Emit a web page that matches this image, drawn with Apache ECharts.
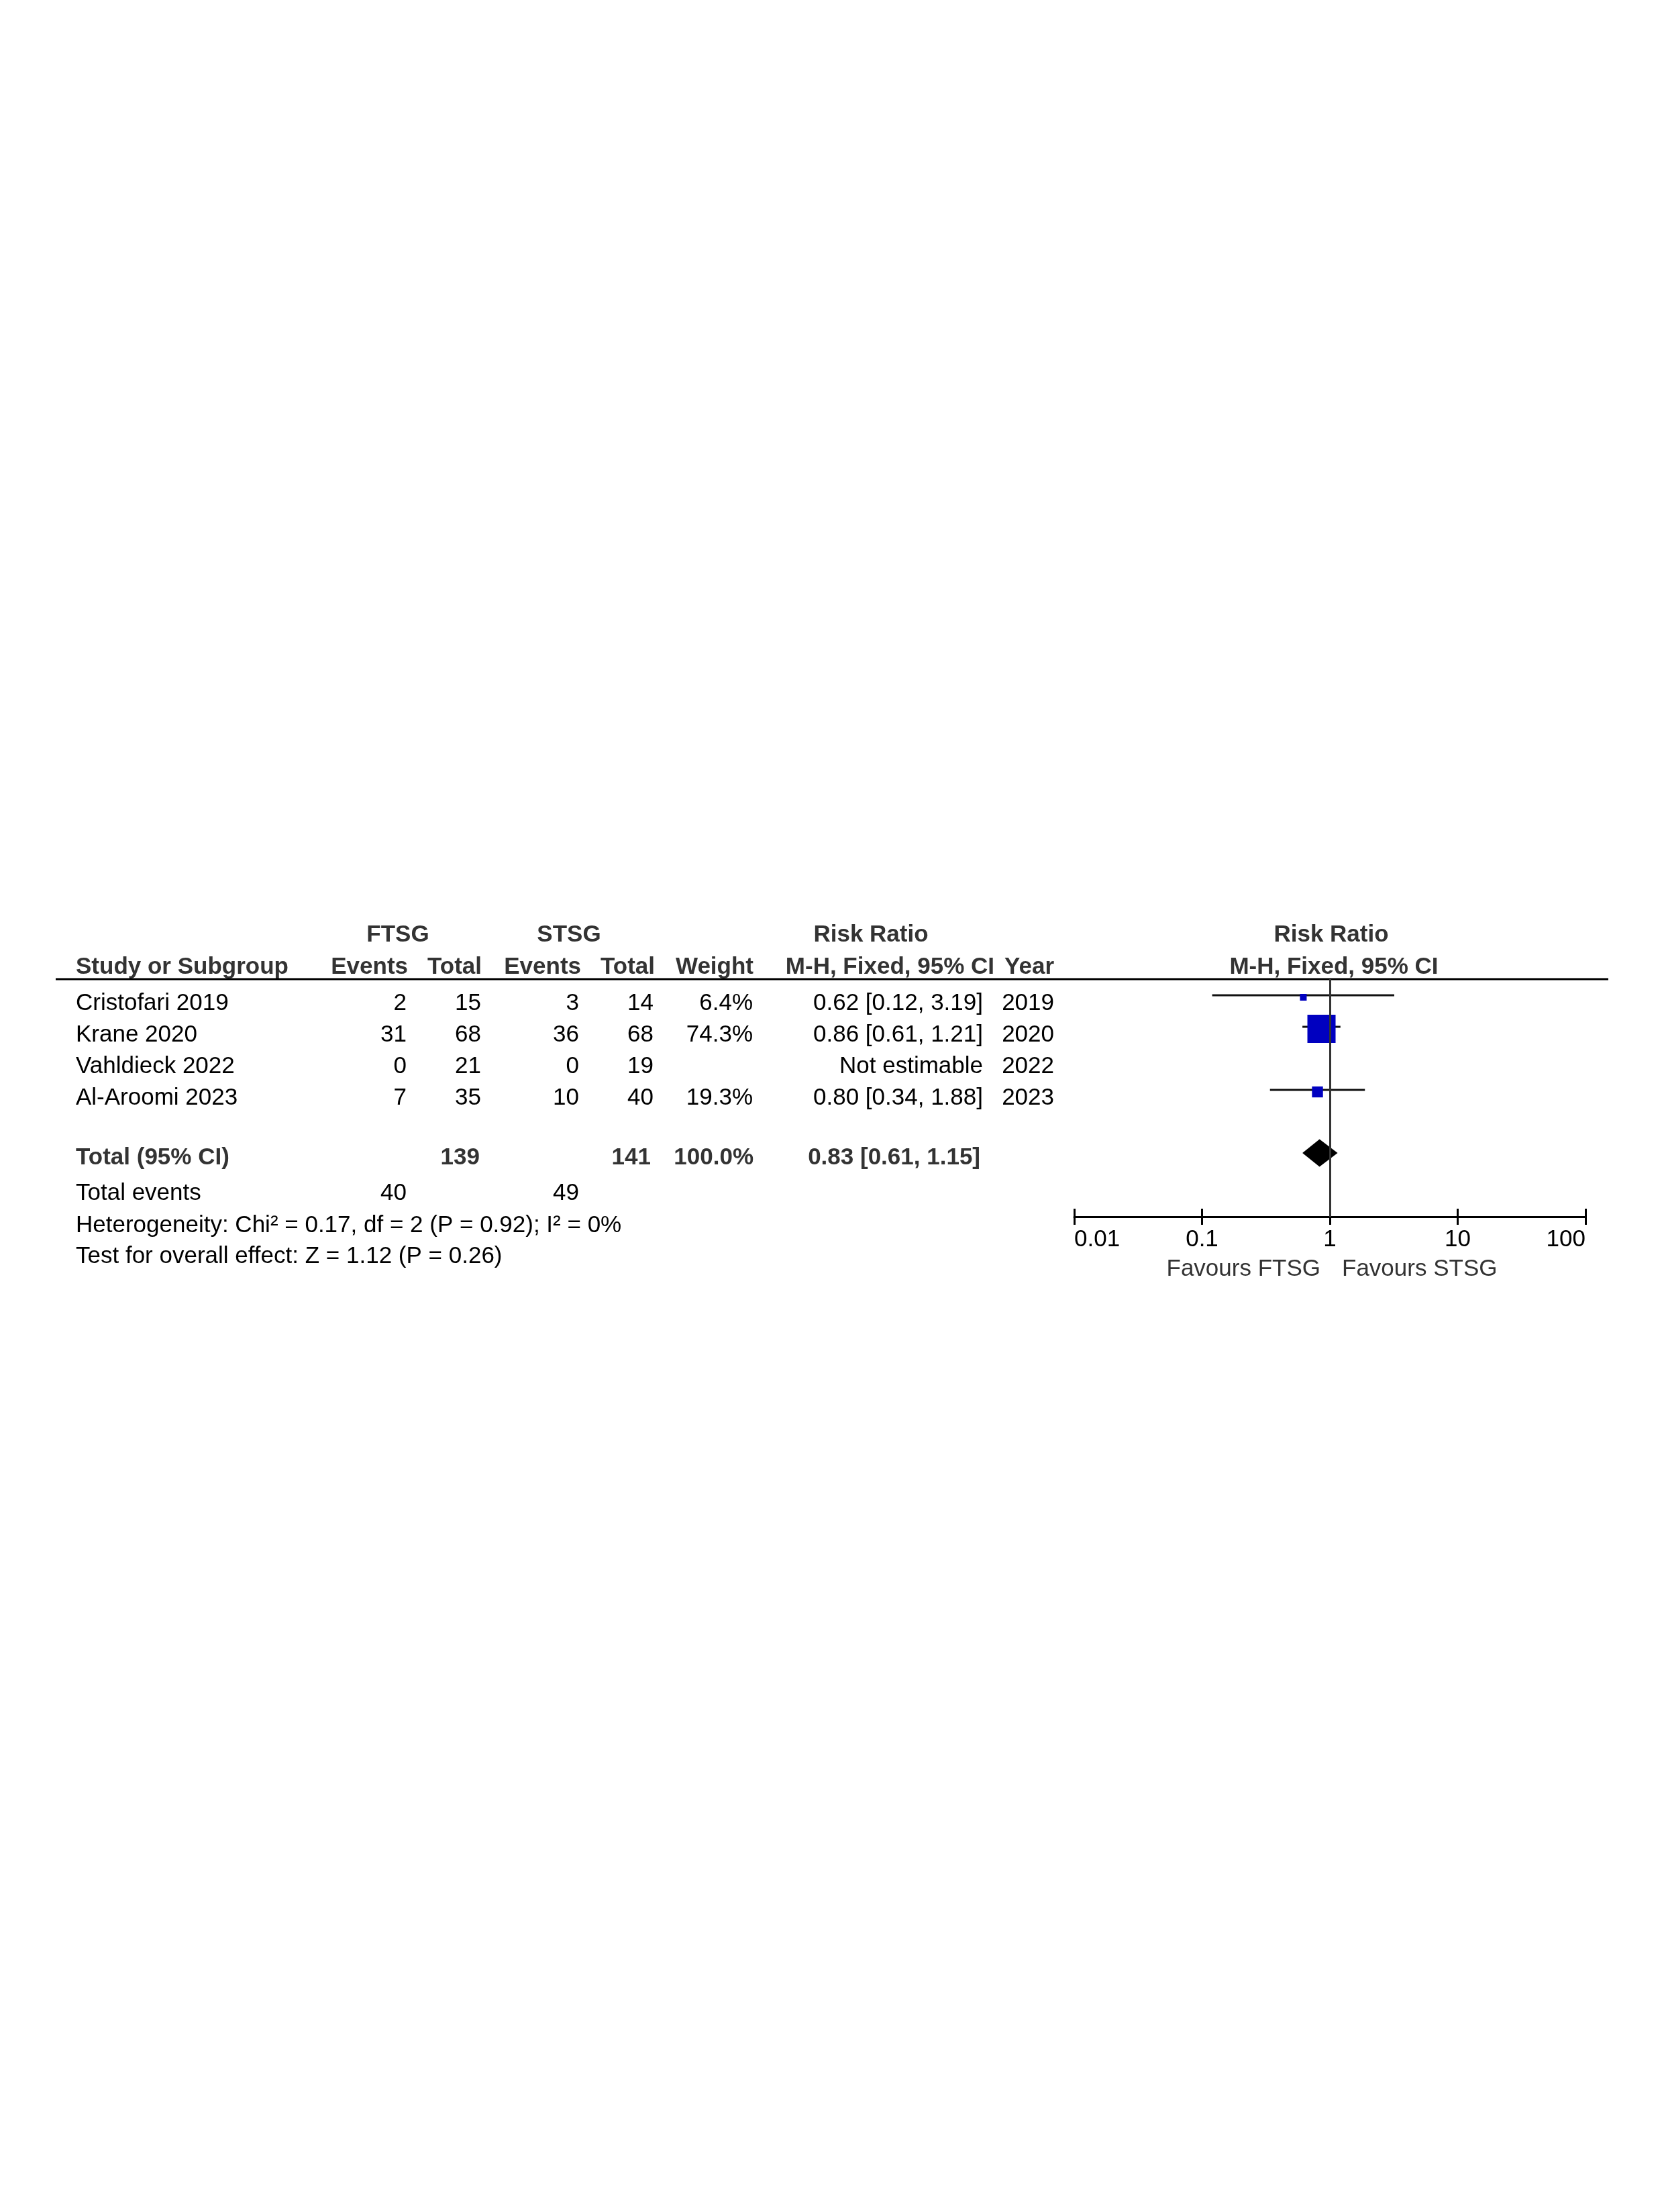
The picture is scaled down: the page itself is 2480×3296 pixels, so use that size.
<!DOCTYPE html>
<html lang="en">
<head>
<meta charset="UTF-8" />
<title>Forest plot</title>
<style>
  html, body { margin: 0; padding: 0; background: #fff; }
  #forest-chart { width: 2480px; height: 3296px; }
</style>
</head>
<body>
<div id="forest-chart"></div>
<script src="https://cdn.jsdelivr.net/npm/echarts@6/dist/echarts.min.js"></script>
<script>
// study data
const studies = ["Cristofari 2019", "Krane 2020", "Vahldieck 2022", "Al-Aroomi 2023"];
const ftsgEvents = [2, 31, 0, 7];
const ftsgTotal = [15, 68, 21, 35];
const stsgEvents = [3, 36, 0, 10];
const stsgTotal = [14, 68, 19, 40];
const weights = [6.4, 74.3, null, 19.3];
const rr = [0.62, 0.86, null, 0.80];
const rrLow = [0.12, 0.61, null, 0.34];
const rrHigh = [3.19, 1.21, null, 1.88];
const years = [2019, 2020, 2022, 2023];

// pooled result
const pooled = [0.83, 0.61, 1.15];
const pooledTotals = [139, 141];
const pooledEvents = [40, 49];
const pooledWeight = 100.0;
const heterogeneity = "Heterogeneity: Chi² = 0.17, df = 2 (P = 0.92); I² = 0%";
const overallTest = "Test for overall effect: Z = 1.12 (P = 0.26)";
const xTicks = [0.01, 0.1, 1, 10, 100];

window.onload = function () {
  const chart = echarts.init(document.getElementById("forest-chart"));
  const FONT = "'Liberation Sans', Arial, Helvetica, sans-serif";
  // canvas "middle" sits a little above the cap centre, nudge text down
  const DY = 3;

  function txt(x, y, text, align, bold) {
    return {
      type: "text",
      x: x,
      y: y + DY,
      silent: true,
      style: {
        text: String(text),
        align: align,
        textAlign: align,
        verticalAlign: "middle",
        textVerticalAlign: "middle",
        fontFamily: FONT,
        fontSize: 35,
        fontWeight: bold ? "bold" : "normal",
        fill: bold ? "#333" : "#000",
      },
    };
  }

  // column right edges (table part)
  const col = { study: 113, fEv: 606, fTot: 717, sEv: 863, sTot: 974, w: 1122, rr: 1465, yr: 1571 };
  const rowY = [1492, 1539, 1586, 1633];
  const els = [];

  // headers
  els.push(txt(593, 1390, "FTSG", "center", true));
  els.push(txt(848, 1390, "STSG", "center", true));
  els.push(txt(1298, 1390, "Risk Ratio", "center", true));
  els.push(txt(1984, 1390, "Risk Ratio", "center", true));
  els.push(txt(col.study, 1438, "Study or Subgroup", "left", true));
  els.push(txt(608, 1438, "Events", "right", true));
  els.push(txt(718, 1438, "Total", "right", true));
  els.push(txt(866, 1438, "Events", "right", true));
  els.push(txt(976, 1438, "Total", "right", true));
  els.push(txt(1123, 1438, "Weight", "right", true));
  els.push(txt(1482, 1438, "M-H, Fixed, 95% CI", "right", true));
  els.push(txt(1571, 1438, "Year", "right", true));
  els.push(txt(1988, 1438, "M-H, Fixed, 95% CI", "center", true));

  // header rule
  els.push({
    type: "line",
    silent: true,
    shape: { x1: 83, y1: 1459, x2: 2397, y2: 1459 },
    style: { stroke: "#000", lineWidth: 3 },
  });

  // study rows
  studies.forEach(function (name, i) {
    const y = rowY[i];
    els.push(txt(col.study, y, name, "left"));
    els.push(txt(col.fEv, y, ftsgEvents[i], "right"));
    els.push(txt(col.fTot, y, ftsgTotal[i], "right"));
    els.push(txt(col.sEv, y, stsgEvents[i], "right"));
    els.push(txt(col.sTot, y, stsgTotal[i], "right"));
    if (weights[i] != null) {
      els.push(txt(col.w, y, weights[i].toFixed(1) + "%", "right"));
    }
    const ci = rr[i] == null
      ? "Not estimable"
      : rr[i].toFixed(2) + " [" + rrLow[i].toFixed(2) + ", " + rrHigh[i].toFixed(2) + "]";
    els.push(txt(col.rr, y, ci, "right"));
    els.push(txt(col.yr, y, years[i], "right"));
  });

  // total rows
  els.push(txt(col.study, 1722, "Total (95% CI)", "left", true));
  els.push(txt(col.fTot - 2, 1722, pooledTotals[0], "right", true));
  els.push(txt(col.sTot - 4, 1722, pooledTotals[1], "right", true));
  els.push(txt(col.w + 1, 1722, pooledWeight.toFixed(1) + "%", "right", true));
  els.push(txt(col.rr - 4, 1722,
    pooled[0].toFixed(2) + " [" + pooled[1].toFixed(2) + ", " + pooled[2].toFixed(2) + "]", "right", true));
  els.push(txt(col.study, 1775, "Total events", "left"));
  els.push(txt(col.fEv, 1775, pooledEvents[0], "right"));
  els.push(txt(col.sEv, 1775, pooledEvents[1], "right"));
  els.push(txt(col.study, 1823, heterogeneity, "left"));
  els.push(txt(col.study, 1869, overallTest, "left"));

  // favours labels
  const fav1 = txt(1968, 1888, "Favours FTSG", "right");
  const fav2 = txt(2000, 1888, "Favours STSG", "left");
  fav1.style.fill = "#333";
  fav2.style.fill = "#333";
  els.push(fav1, fav2);

  const maxW = Math.max.apply(null, weights.filter(function (w) { return w != null; }));
  function boxSide(w) {
    return Math.max(10, 42 * Math.pow(w / maxW, 0.7));
  }

  const studyData = [];
  studies.forEach(function (name, i) {
    if (rr[i] != null) studyData.push([rr[i], rrLow[i], rrHigh[i], i, weights[i]]);
  });

  const option = {
    backgroundColor: "#fff",
    animation: false,
    grid: { left: 1601, right: 117, top: 1459, bottom: 3296 - 1813 },
    xAxis: [
      {
        type: "log",
        logBase: 10,
        position: "bottom",
        min: xTicks[0],
        max: xTicks[xTicks.length - 1],
        axisLine: { show: true, onZero: false, lineStyle: { color: "#000", width: 3 } },
        axisTick: { show: true, length: 12, lineStyle: { color: "#000", width: 3 } },
        axisLabel: {
          show: true,
          margin: 17,
          fontSize: 35,
          fontFamily: FONT,
          color: "#000",
          alignMinLabel: "left",
          alignMaxLabel: "right",
          formatter: function (v) { return String(v); },
        },
        splitLine: { show: false },
      },
      {
        type: "log",
        logBase: 10,
        position: "bottom",
        min: xTicks[0],
        max: xTicks[xTicks.length - 1],
        axisLine: { show: false, onZero: false },
        axisTick: { show: true, inside: true, length: 12, lineStyle: { color: "#000", width: 3 } },
        axisLabel: { show: false },
        splitLine: { show: false },
      },
    ],
    yAxis: {
      type: "value",
      inverse: true,
      min: -0.51,
      max: 7.02,
      show: false,
    },
    graphic: { elements: els },
    series: [
      {
        type: "custom",
        xAxisIndex: 0,
        data: studyData,
        encode: { x: [0, 1, 2], y: 3 },
        renderItem: function (params, api) {
          const y = api.value(3);
          const lo = api.coord([api.value(1), y]);
          const hi = api.coord([api.value(2), y]);
          const mid = api.coord([api.value(0), y]);
          const s = boxSide(api.value(4));
          return {
            type: "group",
            children: [
              {
                type: "line",
                shape: { x1: lo[0], y1: lo[1], x2: hi[0], y2: hi[1] },
                style: { stroke: "#111", lineWidth: 3 },
              },
              {
                type: "rect",
                shape: { x: mid[0] - s / 2, y: mid[1] - s / 2 + 3, width: s, height: s },
                style: { fill: "#0000c0" },
              },
            ],
          };
        },
        markLine: {
          silent: true,
          symbol: "none",
          label: { show: false },
          lineStyle: { color: "#333", width: 3, type: "solid" },
          data: [{ xAxis: 1 }],
        },
        z: 3,
      },
      {
        type: "custom",
        xAxisIndex: 0,
        data: [[pooled[0], pooled[1], pooled[2], 5]],
        encode: { x: [0, 1, 2], y: 3 },
        renderItem: function (params, api) {
          const y = api.value(3);
          const lo = api.coord([api.value(1), y]);
          const hi = api.coord([api.value(2), y]);
          const mid = api.coord([api.value(0), y]);
          const h = 20.5;
          return {
            type: "polygon",
            shape: {
              points: [[lo[0], lo[1]], [mid[0], mid[1] - h], [hi[0], hi[1]], [mid[0], mid[1] + h]],
            },
            style: { fill: "#000" },
          };
        },
        z: 4,
      },
    ],
  };
  chart.setOption(option);
};
</script>
</body>
</html>
